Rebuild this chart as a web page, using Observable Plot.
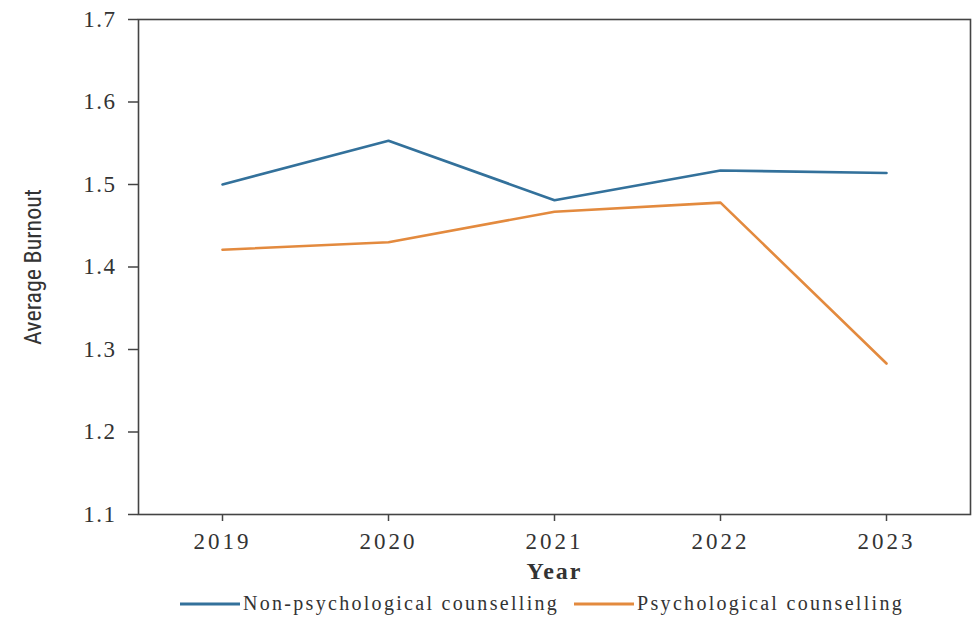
<!DOCTYPE html>
<html>
<head>
<meta charset="utf-8">
<script src="https://cdn.jsdelivr.net/npm/d3@7"></script>
<script src="https://cdn.jsdelivr.net/npm/@observablehq/plot@0.6"></script>
<style>
  html, body { margin: 0; padding: 0; background: #fff; }
  #chart { width: 975px; height: 617px; position: relative; }
  svg { display: block; }
  g[aria-label="x-axis tick label"] text { font-size: 23px; letter-spacing: 3px; }
  g[aria-label="y-axis tick label"] text { font-size: 23px; letter-spacing: 1.5px; }
  g[aria-label="x-axis label"] text { font-weight: bold; font-size: 24px; letter-spacing: 2px; }
  g[aria-label="y-axis label"] text { font-family: "Liberation Sans Narrow", "Arial Narrow", "Roboto Condensed", sans-serif; font-size: 24px; }
  #legend { position: absolute; top: 592px; left: 0; width: 975px; display: flex; justify-content: flex-start; gap: 15px;
    font-family: "Liberation Serif", "DejaVu Serif", serif; font-size: 20px; letter-spacing: 2.3px; color: #333; padding-left: 180px; box-sizing: border-box; }
  .item { display: flex; align-items: center; gap: 3px; }
</style>
</head>
<body>
<div id="chart"></div>
<script>
const years = [2019, 2020, 2021, 2022, 2023];
const seriesNames = ["Non-psychological counselling", "Psychological counselling"];
const nonPsych = [1.500, 1.553, 1.481, 1.517, 1.514];
const psych = [1.421, 1.430, 1.467, 1.478, 1.283];
const yTicks = [1.1, 1.2, 1.3, 1.4, 1.5, 1.6, 1.7];
const colors = ["#33719b", "#e38a3e"];

const data = [
  ...years.map((y, i) => ({year: y, value: nonPsych[i], series: seriesNames[0]})),
  ...years.map((y, i) => ({year: y, value: psych[i], series: seriesNames[1]}))
];

const plot = Plot.plot({
  width: 975,
  height: 592,
  marginLeft: 138,
  marginRight: 5,
  marginTop: 19,
  marginBottom: 78,
  style: {fontFamily: "'Liberation Serif', 'DejaVu Serif', serif", fontSize: "20px", color: "#333"},
  x: {type: "point", domain: years, padding: 0.5},
  y: {domain: [1.1, 1.7]},
  color: {domain: seriesNames, range: colors},
  marks: [
    Plot.frame({stroke: "#444", strokeWidth: 1.6}),
    Plot.axisY({ticks: yTicks, tickFormat: d3.format(".1f"), tickSize: 10, tickPadding: 12,
      label: "Average Burnout", labelAnchor: "center", labelArrow: "none", labelOffset: 115, stroke: "#444", strokeWidth: 1.5}),
    Plot.axisX({ticks: years, tickFormat: d => String(d), tickSize: 7, tickPadding: 11,
      label: "Year", labelAnchor: "center", labelArrow: "none", labelOffset: 64, stroke: "#444", strokeWidth: 1.5}),
    Plot.line(data, {x: "year", y: "value", z: "series", stroke: "series", strokeWidth: 2.6})
  ]
});
document.getElementById("chart").appendChild(plot);

const legend = document.createElement("div");
legend.id = "legend";
seriesNames.forEach((name, i) => {
  const item = document.createElement("div");
  item.className = "item";
  item.innerHTML = `<svg width="60" height="6"><line x1="0" y1="3" x2="60" y2="3" stroke="${colors[i]}" stroke-width="3"/></svg><span>${name}</span>`;
  legend.appendChild(item);
});
document.getElementById("chart").appendChild(legend);
</script>
</body>
</html>
